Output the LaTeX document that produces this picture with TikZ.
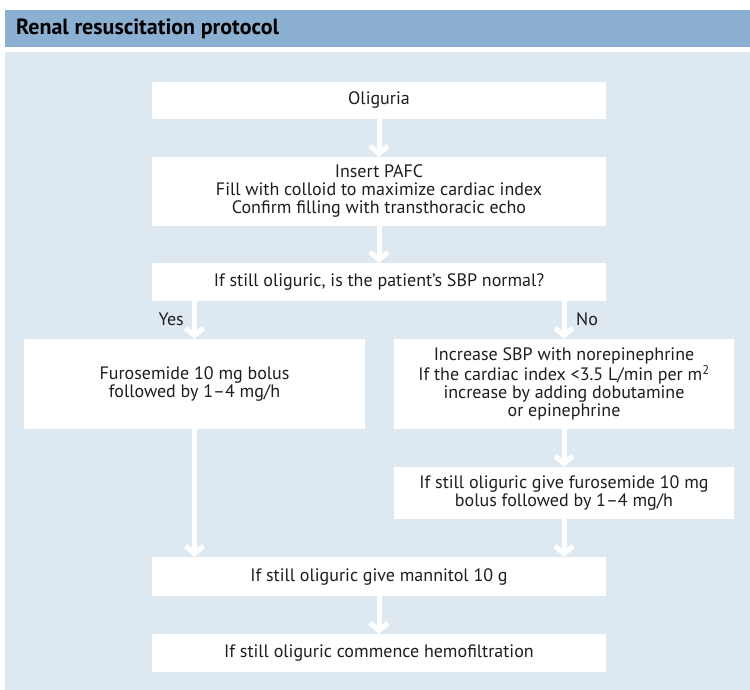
\documentclass[tikz,border=0pt]{standalone}
\usepackage{fontspec}
\setmainfont{PT Sans}
\usetikzlibrary{arrows.meta}
\definecolor{headblue}{RGB}{139,176,210}
\definecolor{panelblue}{RGB}{222,232,241}
\definecolor{ink}{RGB}{30,30,30}
\tikzset{
  box/.style={fill=white, inner sep=0pt, align=center, text=ink,
    font=\fontsize{18}{18}\selectfont},
  flow/.style={draw=white, line width=5pt,
    -{Straight Barb[sharp, length=7.5pt, width=18pt]}},
  branchlabel/.style={text=ink, inner sep=0pt, font=\fontsize{18}{18}\selectfont}
}
\begin{document}
\begin{tikzpicture}[x=1pt, y=-1pt]
  \useasboundingbox (0,0) rectangle (750,690);
  % title bar and panel
  \fill[headblue] (5,10) rectangle (750,47);
  \fill[panelblue] (5,52) rectangle (750,690);
  \node[anchor=west, inner sep=0pt, font=\fontsize{22}{24}\selectfont\bfseries]
    (title) at (16,29) {Renal resuscitation protocol};

  % boxes
  \node[box, minimum width=454pt, minimum height=37pt] (olig) at (379,100.5) {Oliguria};
  \node[box, minimum width=454pt, minimum height=69pt] (pafc) at (379,191.5)
    {Insert PAFC\\Fill with colloid to maximize cardiac index\\Confirm filling with transthoracic echo};
  \node[box, minimum width=454pt, minimum height=38pt] (sbp) at (379,282)
    {If still oliguric, is the patient’s SBP normal?};
  \node[box, minimum width=341pt, minimum height=90pt] (furo) at (194.5,384)
    {Furosemide 10 mg bolus\\followed by 1–4 mg/h};
  \node[box, minimum width=340pt, minimum height=90pt] (nore) at (564,384)
    {Increase SBP with norepinephrine\\If the cardiac index <3.5 L/min per m\textsuperscript{2}\\increase by adding dobutamine\\or epinephrine};
  \node[box, minimum width=340pt, minimum height=52pt] (furob) at (564,493)
    {If still oliguric give furosemide 10 mg\\bolus followed by 1–4 mg/h};
  \node[box, minimum width=454pt, minimum height=39pt] (mann) at (379,576.5)
    {If still oliguric give mannitol 10 g};
  \node[box, minimum width=454pt, minimum height=38pt] (hemo) at (379,653)
    {If still oliguric commence hemofiltration};

  % branch labels
  \node[branchlabel, anchor=east] (yes) at (184,319) {Yes};
  \node[branchlabel, anchor=west] (no) at (576,319) {No};

  % connectors
  \draw[flow] (olig) -- (pafc);
  \draw[flow] (pafc) -- (sbp);
  \draw[flow] (furo.north |- sbp.south) -- (furo.north);
  \draw[flow] (nore.north |- sbp.south) -- (nore.north);
  \draw[flow] (nore) -- (furob);
  \draw[flow] (furo.south) -- (furo.south |- mann.north);
  \draw[flow] (furob.south) -- (furob.south |- mann.north);
  \draw[flow] (mann) -- (hemo);
\end{tikzpicture}
\end{document}
